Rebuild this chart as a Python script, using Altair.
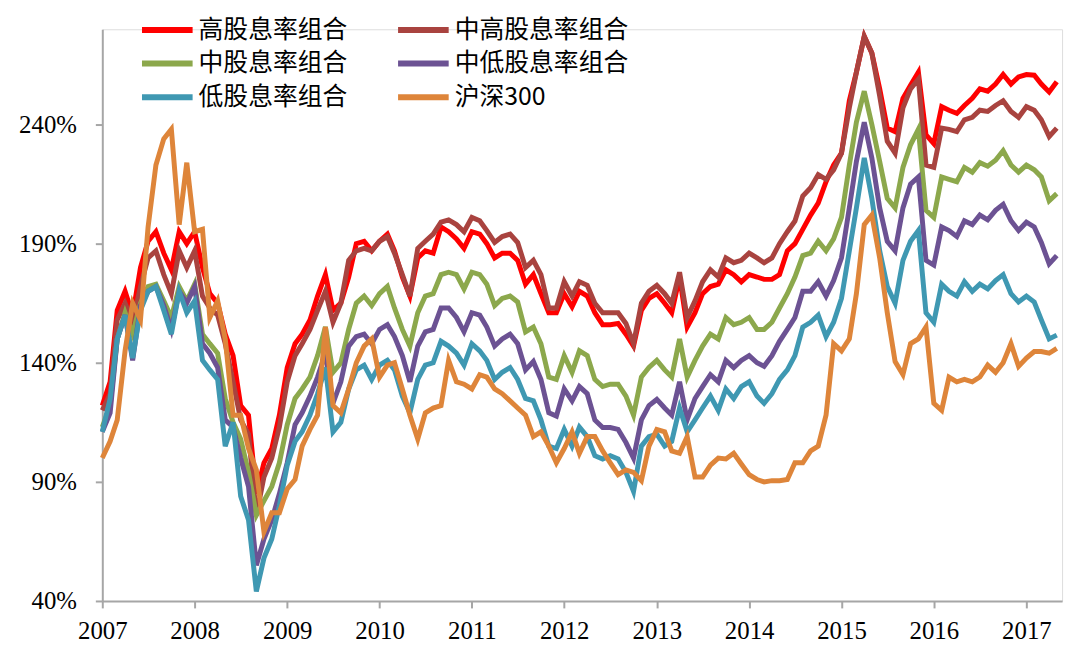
import altair as alt
import pandas as pd

# Monthly cumulative net values, Jan 2007 – May 2017
series_names = ["高股息率组合", "中高股息率组合", "中股息率组合", "中低股息率组合", "低股息率组合", "沪深300"]
series_colors = ["#FF0000", "#A9433F", "#8CA84C", "#6C5293", "#3F98B2", "#DE853A"]

high = [1.22,1.32,1.62,1.70,1.60,1.80,1.91,1.95,1.86,1.79,1.95,1.90,1.95,1.80,1.69,1.65,1.52,1.43,1.22,1.18,0.85,0.98,1.04,1.18,1.38,
        1.48,1.52,1.58,1.68,1.77,1.62,1.65,1.76,1.90,1.91,1.87,1.91,1.94,1.87,1.76,1.68,1.84,1.87,1.86,1.97,1.95,1.92,1.88,1.95,
        1.94,1.90,1.84,1.86,1.86,1.83,1.73,1.77,1.69,1.61,1.61,1.69,1.635,1.70,1.68,1.61,1.56,1.56,1.565,1.52,1.47,1.62,1.67,1.69,1.65,1.61,
        1.76,1.55,1.61,1.69,1.72,1.73,1.79,1.77,1.74,1.77,1.76,1.75,1.75,1.77,1.87,1.90,1.96,2.02,2.07,2.16,2.23,2.28,
        2.50,2.62,2.77,2.70,2.55,2.385,2.37,2.51,2.565,2.62,2.357,2.32,2.475,2.46,2.447,2.48,2.51,2.55,2.54,2.57,2.61,2.57,2.60,2.61,2.607,2.57,2.537,2.58]
mid_high = [1.20,1.27,1.58,1.65,1.57,1.72,1.84,1.87,1.77,1.69,1.87,1.80,1.87,1.68,1.63,1.60,1.48,1.32,1.16,1.10,0.76,0.92,1.00,1.13,1.32,
            1.43,1.48,1.54,1.62,1.70,1.57,1.65,1.83,1.87,1.88,1.87,1.91,1.93,1.86,1.77,1.68,1.88,1.91,1.94,1.99,2.00,1.98,1.95,2.01,
            1.996,1.955,1.905,1.93,1.94,1.905,1.80,1.83,1.77,1.63,1.63,1.74,1.68,1.74,1.725,1.65,1.61,1.61,1.61,1.565,1.48,1.65,1.70,1.725,1.69,1.65,
            1.78,1.59,1.66,1.74,1.79,1.76,1.84,1.82,1.83,1.86,1.84,1.82,1.84,1.90,1.95,1.995,2.10,2.135,2.19,2.17,2.21,2.28,
            2.47,2.62,2.77,2.70,2.52,2.33,2.28,2.47,2.55,2.59,2.23,2.22,2.385,2.38,2.37,2.42,2.43,2.46,2.455,2.48,2.50,2.455,2.43,2.475,2.46,2.42,2.35,2.385]
mid = [1.13,1.22,1.50,1.61,1.52,1.65,1.72,1.73,1.66,1.59,1.72,1.66,1.73,1.52,1.48,1.44,1.25,1.15,1.08,0.94,0.76,0.82,0.88,0.98,1.14,
       1.25,1.29,1.34,1.43,1.55,1.36,1.40,1.54,1.65,1.68,1.64,1.69,1.72,1.63,1.54,1.47,1.61,1.68,1.69,1.77,1.78,1.77,1.71,1.78,
       1.77,1.73,1.64,1.67,1.68,1.655,1.53,1.55,1.48,1.34,1.33,1.43,1.36,1.45,1.43,1.33,1.30,1.31,1.31,1.26,1.18,1.34,1.38,1.41,1.37,1.34,
       1.50,1.34,1.41,1.47,1.52,1.50,1.59,1.56,1.57,1.59,1.54,1.54,1.57,1.63,1.69,1.76,1.85,1.86,1.91,1.87,1.92,2.01,
       2.23,2.41,2.54,2.40,2.245,2.09,2.05,2.22,2.315,2.38,2.04,2.01,2.18,2.17,2.16,2.22,2.20,2.24,2.225,2.25,2.29,2.23,2.20,2.23,2.21,2.18,2.08,2.11]
mid_low = [1.11,1.19,1.50,1.60,1.41,1.64,1.70,1.72,1.64,1.54,1.70,1.65,1.72,1.48,1.44,1.38,1.16,1.13,1.00,0.88,0.55,0.66,0.74,0.85,0.98,
           1.14,1.19,1.26,1.34,1.44,1.23,1.32,1.47,1.51,1.52,1.48,1.54,1.56,1.51,1.43,1.32,1.47,1.53,1.54,1.63,1.63,1.59,1.53,1.61,
           1.60,1.55,1.47,1.50,1.52,1.48,1.37,1.405,1.33,1.19,1.176,1.29,1.24,1.30,1.27,1.16,1.128,1.128,1.12,1.065,1.00,1.16,1.22,1.246,1.21,1.18,
           1.32,1.16,1.25,1.30,1.35,1.32,1.41,1.38,1.41,1.43,1.40,1.385,1.43,1.49,1.54,1.59,1.70,1.70,1.74,1.68,1.745,1.84,
           2.05,2.245,2.41,2.26,2.05,1.91,1.87,2.05,2.15,2.18,1.83,1.81,1.97,1.955,1.93,1.996,1.98,2.02,2.00,2.04,2.065,1.996,1.955,1.99,1.97,1.905,1.815,1.85]
low = [1.11,1.25,1.50,1.60,1.42,1.62,1.70,1.72,1.62,1.52,1.70,1.61,1.66,1.41,1.37,1.33,1.05,1.15,0.84,0.74,0.44,0.58,0.66,0.80,0.97,
       1.07,1.11,1.18,1.27,1.38,1.11,1.15,1.29,1.37,1.39,1.33,1.39,1.41,1.37,1.26,1.19,1.33,1.39,1.40,1.49,1.47,1.44,1.39,1.48,
       1.45,1.41,1.33,1.36,1.38,1.33,1.25,1.24,1.16,1.05,1.04,1.12,1.05,1.13,1.09,1.01,0.996,1.01,0.996,0.94,0.86,1.05,1.09,1.10,1.05,1.07,
       1.21,1.11,1.16,1.21,1.26,1.20,1.29,1.25,1.30,1.32,1.26,1.23,1.27,1.33,1.37,1.43,1.55,1.57,1.60,1.51,1.57,1.67,
       1.87,2.05,2.26,2.09,1.87,1.72,1.65,1.83,1.91,1.955,1.61,1.57,1.73,1.70,1.68,1.74,1.70,1.73,1.71,1.745,1.77,1.69,1.655,1.68,1.655,1.58,1.50,1.516]
hs300 = [1.00,1.07,1.16,1.45,1.65,1.58,1.97,2.23,2.34,2.38,1.98,2.24,1.95,1.96,1.59,1.66,1.50,1.18,1.18,1.04,0.95,0.69,0.77,0.77,0.87,
         0.91,1.05,1.12,1.18,1.55,1.22,1.19,1.29,1.40,1.47,1.50,1.34,1.39,1.40,1.29,1.18,1.08,1.19,1.21,1.22,1.41,1.32,1.31,1.29,
         1.35,1.34,1.29,1.27,1.24,1.21,1.18,1.09,1.11,1.05,0.98,1.04,1.11,1.02,1.09,1.09,1.03,0.98,0.93,0.95,0.94,0.905,1.05,1.12,1.11,1.03,
         1.02,1.09,0.92,0.92,0.97,1.00,0.996,1.02,0.975,0.93,0.91,0.90,0.905,0.905,0.91,0.98,0.98,1.03,1.05,1.18,1.48,1.45,
         1.50,1.69,1.98,2.02,1.84,1.61,1.405,1.35,1.48,1.50,1.55,1.23,1.20,1.34,1.32,1.33,1.32,1.34,1.39,1.36,1.40,1.48,1.385,1.42,1.447,1.447,1.44,1.46]

y_ticks = [0.4, 0.9, 1.4, 1.9, 2.4]

all_values = [high, mid_high, mid, mid_low, low, hs300]
dates = pd.date_range("2007-01-01", periods=len(high), freq="MS").strftime("%Y-%m-%dT00:00:00").tolist()

rows = []
for k, (name, vals) in enumerate(zip(series_names, all_values)):
    for d, v in zip(dates, vals):
        rows.append({"date": d, "value": v, "series": name, "k": k})
df = pd.DataFrame(rows)

axis_gray = "#A6A6A6"
num_font = "Liberation Serif"
cjk_font = "Noto Sans CJK SC"

chart = alt.Chart(df).mark_line(strokeWidth=5).encode(
    x=alt.X("date:T",
            scale=alt.Scale(domain=[alt.DateTime(year=2007, month=1, date=1),
                                    alt.DateTime(year=2017, month=5, date=22)]),
            axis=alt.Axis(title=None, format="%Y", tickCount={"interval": "year", "step": 1},
                          grid=False, labelAngle=0, labelFont=num_font, labelFontSize=25,
                          labelColor="#000000", labelPadding=11, tickSize=7, tickWidth=2,
                          tickColor=axis_gray, domainColor=axis_gray, domainWidth=2,
                          labelFlush=False, labelOverlap=False)),
    y=alt.Y("value:Q",
            scale=alt.Scale(domain=[0.4, 2.8], nice=False, zero=False),
            axis=alt.Axis(title=None, values=y_ticks, format=".0%", grid=False,
                          labelFont=num_font, labelFontSize=25, labelColor="#000000",
                          labelPadding=19, tickSize=7, tickWidth=2, tickColor=axis_gray,
                          domainColor=axis_gray, domainWidth=2)),
    color=alt.Color("series:N",
                    scale=alt.Scale(domain=series_names, range=series_colors),
                    sort=series_names,
                    legend=alt.Legend(title=None, orient="none", legendX=53, legendY=-12,
                                      direction="horizontal", columns=2, symbolType="M-3,0H3",
                                      symbolSize=289, symbolStrokeWidth=6, labelFont=cjk_font,
                                      labelFontSize=25, labelColor="#000000", labelOffset=19,
                                      columnPadding=38, rowPadding=8, padding=0,
                                      labelLimit=400)),
    order=alt.Order("date:T"),
    detail="k:O",
).properties(
    width=967, height=576,
    autosize=alt.AutoSizeParams(type="none"),
    padding={"left": 95, "top": 19, "right": 10, "bottom": 50},
).configure_view(stroke=None).configure(background="white")

chart.save("out.html", embed_options={"renderer": "svg", "actions": False})
